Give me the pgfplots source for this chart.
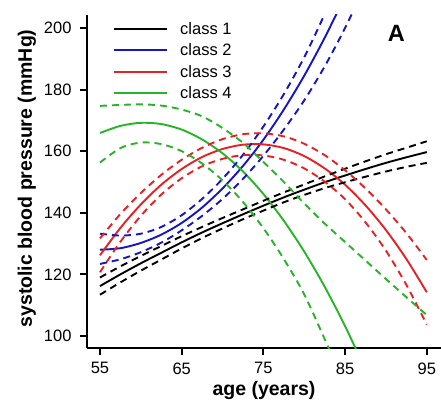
\documentclass[border=0pt]{standalone}
\usepackage{pgfplots}
\pgfplotsset{compat=1.18}
\usepackage{fontspec}
\setmainfont{Liberation Sans}
\definecolor{cblue}{RGB}{20,20,200}
\definecolor{cred}{RGB}{232,32,36}
\definecolor{cgreen}{RGB}{40,180,40}
\begin{document}
\begin{tikzpicture}
\useasboundingbox (-87pt,-64pt) rectangle (354pt,348pt);
\begin{axis}[
  at={(0pt,0pt)}, anchor=south west,
  scale only axis, width=354pt, height=333pt,
  xmin=53.41, xmax=96.74, ymin=96.1, ymax=204.2,
  axis x line=bottom, axis y line=left,
  axis line style={line width=2pt,-},
  tick align=outside, major tick length=7pt,
  tick style={line width=2pt, black},
  xtick={55,65,75,85,95}, ytick={100,120,140,160,180,200},
  /pgf/number format/assume math mode=true,
  tick label style={font=\fontsize{16.5}{18}\selectfont},
  yticklabel style={xshift=-5pt},
  xticklabel style={yshift=-4pt},
  xlabel={\bfseries age (years)},
  ylabel={\bfseries systolic blood pressure (mmHg)},
  label style={font=\fontsize{19.5}{22}\selectfont},
  xlabel style={at={(axis description cs:0.5,-0.129)}, anchor=center},
  ylabel style={at={(axis description cs:-0.1695,0.509)}, anchor=center},
  legend style={at={(axis description cs:0.065,0.985)}, anchor=north west,
    draw=none, fill=none, font=\fontsize{16.5}{18}\selectfont,
    column sep=12pt, row sep=8pt, nodes={inner sep=0pt}, cells={anchor=west}},
  legend image code/.code={\draw[line width=2pt,#1] (0pt,0pt) -- (53pt,0pt);},
  clip=true,
]
\addlegendimage{black, line width=2pt}
\addlegendentry{class 1}
\addlegendimage{cblue, line width=2pt}
\addlegendentry{class 2}
\addlegendimage{cred, line width=2pt}
\addlegendentry{class 3}
\addlegendimage{cgreen, line width=2pt}
\addlegendentry{class 4}
% class 1
\addplot[black, line width=1.9pt, smooth, forget plot] coordinates {(55,116.2)(57.5,120.0)(60,123.6)(62.5,127.0)(65,130.4)(67.5,133.6)(70,136.6)(72.5,139.5)(75,142.3)(77.5,145.0)(80,147.5)(82.5,149.9)(85,152.1)(87.5,154.2)(90,156.2)(92.5,158.0)(95,159.7)};
% class 2
\addplot[cblue, line width=1.9pt, smooth, forget plot] coordinates {(55,128.0)(57.5,128.5)(60,130.2)(62.5,132.9)(65,136.7)(67.5,141.7)(70,147.9)(72.5,155.2)(75,163.7)(77.5,173.5)(80,184.5)(82.5,196.8)(85,210.3)};
% class 3
\addplot[cred, line width=1.9pt, smooth, forget plot] coordinates {(55,126.2)(57.5,135.1)(60,142.7)(62.5,149.1)(65,154.2)(67.5,158.1)(70,160.7)(72.5,162.1)(75,162.2)(77.5,161.0)(80,158.4)(82.5,154.4)(85,149.1)(87.5,142.4)(90,134.4)(92.5,125.0)(95,114.2)};
% class 4
\addplot[cgreen, line width=1.9pt, smooth, forget plot] coordinates {(55,165.9)(57.5,168.2)(60,169.2)(62.5,168.8)(65,167.0)(67.5,163.8)(70,159.3)(72.5,153.4)(75,146.1)(77.5,137.4)(80,127.4)(82.5,116.0)(85,103.2)(87.5,89.0)};
% confidence bands
\addplot[black, line width=1.9pt, smooth, dash pattern=on 7pt off 5pt, forget plot] coordinates {(55,119.0)(57.5,122.6)(60,126.0)(62.5,129.2)(65,132.4)(67.5,135.4)(70,138.3)(72.5,141.1)(75,143.9)(77.5,146.6)(80,149.2)(82.5,151.8)(85,154.3)(87.5,156.7)(90,159.0)(92.5,161.1)(95,163.2)};
\addplot[black, line width=1.9pt, smooth, dash pattern=on 7pt off 5pt, forget plot] coordinates {(55,113.4)(57.5,117.4)(60,121.2)(62.5,124.8)(65,128.4)(67.5,131.8)(70,134.9)(72.5,137.9)(75,140.7)(77.5,143.4)(80,145.8)(82.5,148.0)(85,149.9)(87.5,151.7)(90,153.4)(92.5,154.9)(95,156.2)};
\addplot[cblue, line width=1.9pt, smooth, dash pattern=on 7pt off 5pt, forget plot] coordinates {(55,133.2)(57.5,132.6)(60,133.2)(62.5,135.4)(65,139.2)(67.5,144.5)(70,151.0)(72.5,158.8)(75,168.0)(77.5,178.5)(80,190.5)(82.5,204.5)(85,220.0)};
\addplot[cblue, line width=1.9pt, smooth, dash pattern=on 7pt off 5pt, forget plot] coordinates {(55,123.4)(57.5,124.9)(60,127.2)(62.5,130.3)(65,134.3)(67.5,139.0)(70,144.5)(72.5,151.0)(75,158.5)(77.5,167.0)(80,176.5)(82.5,187.5)(85,200.0)(87.5,214.0)};
\addplot[cred, line width=1.9pt, smooth, dash pattern=on 7pt off 5pt, forget plot] coordinates {(55,131.7)(57.5,139.6)(60,146.4)(62.5,152.3)(65,157.2)(67.5,161.1)(70,163.9)(72.5,165.5)(75,165.8)(77.5,164.8)(80,162.4)(82.5,158.7)(85,153.8)(87.5,147.9)(90,141.1)(92.5,133.4)(95,124.7)};
\addplot[cred, line width=1.9pt, smooth, dash pattern=on 7pt off 5pt, forget plot] coordinates {(55,120.7)(57.5,130.6)(60,139.0)(62.5,145.9)(65,151.2)(67.5,155.1)(70,157.5)(72.5,158.7)(75,158.6)(77.5,157.2)(80,154.4)(82.5,150.1)(85,144.4)(87.5,136.9)(90,127.7)(92.5,116.6)(95,103.7)};
\addplot[cgreen, line width=1.9pt, smooth, dash pattern=on 7pt off 5pt, forget plot] coordinates {(55,174.7)(57.5,175.0)(60,175.2)(62.5,174.8)(65,173.5)(67.5,171.3)(70,167.5)(72.5,162.7)(75,156.5)(77.5,150.0)(80,143.0)(82.5,136.5)(85,130.5)(87.5,124.5)(90,118.5)(92.5,112.6)(95,106.8)};
\addplot[cgreen, line width=1.9pt, smooth, dash pattern=on 7pt off 5pt, forget plot] coordinates {(55,156.3)(57.5,161.0)(60,162.8)(62.5,162.3)(65,160.0)(67.5,156.0)(70,150.5)(72.5,143.5)(75,135.0)(77.5,125.0)(80,113.5)(82.5,99.0)(85,84.0)};
\node[font=\bfseries\fontsize{23.5}{24}\selectfont, anchor=center] at (rel axis cs:0.874,0.944) {A};
\end{axis}
\end{tikzpicture}
\end{document}
